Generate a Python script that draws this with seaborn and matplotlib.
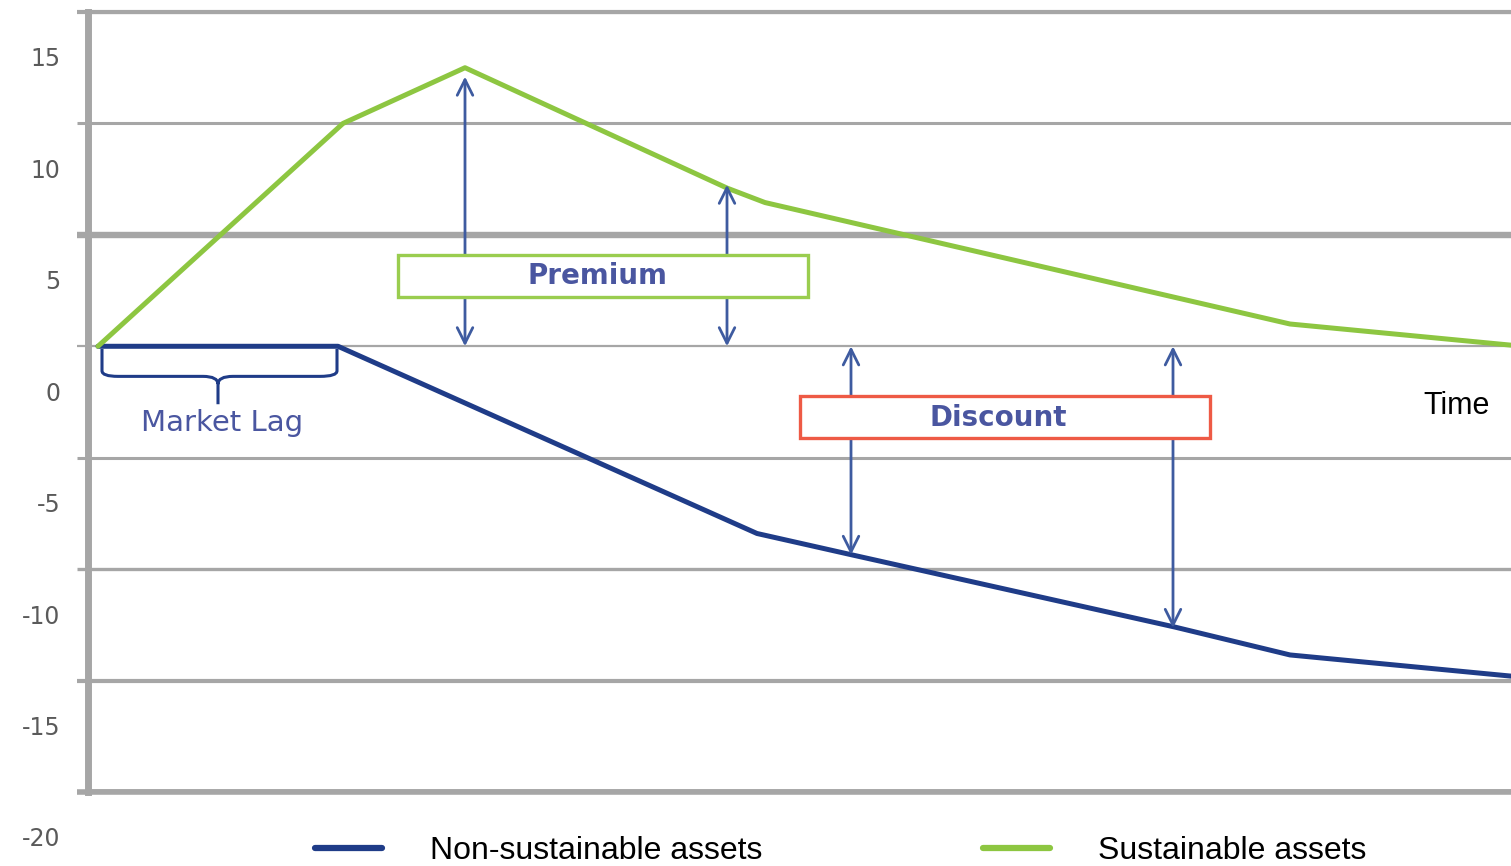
import pandas as pd
import seaborn as sns
import matplotlib.pyplot as plt
from matplotlib import transforms
from matplotlib.patches import Rectangle, PathPatch
from matplotlib.path import Path

sns.set_style("white")

# ---- data ----
series_names = ["Non-sustainable assets", "Sustainable assets"]
blue_t = [0.0, 2.4, 6.59, 7.53, 10.77, 11.92, 14.13]
blue_v = [0.0, 0.0, -8.4, -9.35, -12.6, -13.85, -14.8]
green_t = [0.0, 2.45, 3.67, 6.29, 6.67, 11.92, 14.13]
green_v = [0.0, 10.0, 12.5, 7.1, 6.45, 1.0, 0.05]
y_ticks = [-20, -15, -10, -5, 0, 5, 10, 15]

premium_t = [3.67, 6.29]
premium_top = [12.1, 7.25]
discount_t = [7.53, 10.75]
discount_bottom = [-9.36, -12.64]

BLUE = "#1f3c88"
GREEN = "#8dc641"
ARROW = "#3e5ba0"
TXT = "#4a56a0"
GRID = "#a6a6a6"

df = pd.concat([
    pd.DataFrame({"t": blue_t, "value": blue_v, "series": series_names[0]}),
    pd.DataFrame({"t": green_t, "value": green_v, "series": series_names[1]}),
])

fig = plt.figure(figsize=(15.11, 8.66), dpi=100)
ax = fig.add_axes([88 / 1511, 74 / 866, 1 - 88 / 1511, 780 / 866])

sns.lineplot(data=df, x="t", y="value", hue="series", hue_order=series_names,
             palette=[BLUE, GREEN], estimator=None, sort=False,
             linewidth=3.6, ax=ax, zorder=3)

ax.set_xlim(-0.1, 14.13)
ax.set_ylim(-20, 15)
ax.set_xticks([])
ax.set_xlabel("")
ax.set_ylabel("")
ax.set_yticks(y_ticks)
ax.set_yticklabels([str(v) for v in y_ticks])

# grid + ticks
ax.yaxis.grid(True, color=GRID)
ax.tick_params(axis="y", direction="out", length=8, pad=12, colors=GRID,
               labelcolor="#5a5a5a", labelsize=17, left=True)
widths = {-20: 4.0, -15: 3.0, -10: 2.4, -5: 2.2, 0: 1.6, 5: 4.6, 10: 2.2, 15: 3.0}
offset = transforms.ScaledTranslation(0, -0.45, fig.dpi_scale_trans)
for tick, v in zip(ax.yaxis.get_major_ticks(), y_ticks):
    tick.gridline.set_linewidth(widths[v])
    tick.tick1line.set_markeredgewidth(widths[v])
    tick.label1.set_transform(tick.label1.get_transform() + offset)
    tick.label1.set_fontfamily("DejaVu Sans")

ax.spines["right"].set_visible(False)
ax.spines["left"].set_linewidth(5)
ax.spines["left"].set_color(GRID)
ax.spines["top"].set_linewidth(3)
ax.spines["top"].set_color(GRID)
ax.spines["bottom"].set_linewidth(4)
ax.spines["bottom"].set_color(GRID)

# arrows
arrow_kw = dict(arrowstyle="<->", color=ARROW, lw=2, mutation_scale=28,
                shrinkA=0, shrinkB=0)
for t, top in zip(premium_t, premium_top):
    ax.annotate("", xy=(t, top), xytext=(t, 0), arrowprops=arrow_kw, zorder=4)
for t, bot in zip(discount_t, discount_bottom):
    ax.annotate("", xy=(t, 0), xytext=(t, bot), arrowprops=arrow_kw, zorder=4)

# boxes
ax.add_patch(Rectangle((3.0, 2.21), 4.1, 1.89, facecolor="white",
                       edgecolor="#9acd4f", lw=2.4, zorder=5))
ax.text(5.0, 3.15, "Premium", ha="center", va="center", color=TXT,
        fontsize=20, fontweight="bold", family="DejaVu Sans", zorder=6)
ax.add_patch(Rectangle((7.02, -4.11), 4.1, 1.88, facecolor="white",
                       edgecolor="#ee5a45", lw=2.4, zorder=5))
ax.text(9.0, -3.2, "Discount", ha="center", va="center", color=TXT,
        fontsize=20, fontweight="bold", family="DejaVu Sans", zorder=6)

# market lag brace
verts = [(0.04, -0.12), (0.04, -1.1), (0.04, -1.35), (0.2, -1.35),
         (1.05, -1.35), (1.2, -1.35), (1.2, -1.7), (1.2, -2.6),
         (1.2, -1.7), (1.2, -1.35), (1.35, -1.35), (2.22, -1.35),
         (2.39, -1.35), (2.39, -1.1), (2.39, -0.12)]
codes = [Path.MOVETO, Path.LINETO, Path.CURVE3, Path.CURVE3,
         Path.LINETO, Path.CURVE3, Path.CURVE3, Path.LINETO,
         Path.MOVETO, Path.CURVE3, Path.CURVE3, Path.LINETO,
         Path.CURVE3, Path.CURVE3, Path.LINETO]
ax.add_patch(PathPatch(Path(verts, codes), facecolor="none", edgecolor=BLUE,
                       lw=2.2, zorder=4))
ax.text(1.24, -3.45, "Market Lag", ha="center", va="center", color=TXT,
        fontsize=21, fontweight="medium", family="DejaVu Sans", zorder=6)

ax.text(13.59, -2.68, "Time", ha="center", va="center", color="black",
        fontsize=22, family="Liberation Sans")

# legend along the bottom
old = ax.get_legend()
handles = old.legend_handles
labels = [t.get_text() for t in old.texts]
old.remove()
for h in handles:
    h.set_linewidth(4.5)
    h.set_solid_capstyle("round")
leg = fig.legend(handles, labels, loc="center left",
                 bbox_to_anchor=(315 / 1511, 1 - 851 / 866), ncol=2, frameon=False,
                 prop={"family": "Liberation Sans", "size": 23},
                 handlelength=2.1, handletextpad=1.5, columnspacing=6.9,
                 borderpad=0, borderaxespad=0)
for txt in leg.get_texts():
    txt.set_color("black")

fig.savefig("out.png", dpi=100)
